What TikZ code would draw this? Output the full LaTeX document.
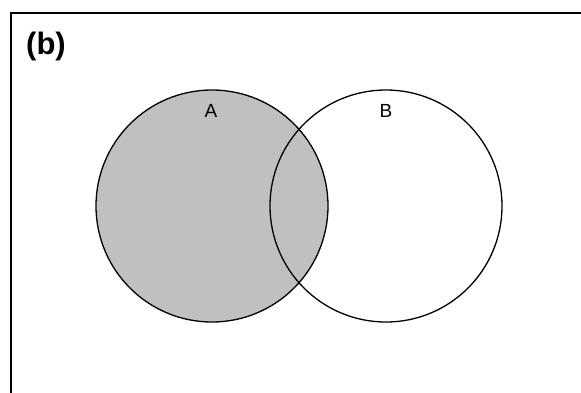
\documentclass[tikz,border=0pt]{standalone}
\usepackage{fontspec}
\setmainfont{Liberation Sans}
\begin{document}
\begin{tikzpicture}[x=1pt,y=-1pt,
  setcircle/.style={draw=black, line width=1.3pt},
  setlabel/.style={font=\fontsize{19}{19}\selectfont, inner sep=0pt},
  framestyle/.style={draw=black, line width=2pt}]
\useasboundingbox (0,0) rectangle (581,392);
\fill[white] (0,0) rectangle (581,392);
% frame (left and top edges only)
\coordinate (fbl) at (10.5,393);
\coordinate (ftl) at (10.5,13);
\coordinate (ftr) at (582,13);
\draw[framestyle] (fbl) -- (ftl) -- (ftr);
% circles
\coordinate (ca) at (212,206);
\coordinate (cb) at (386,206);
\fill[fill={rgb,255:red,192;green,192;blue,192}] (ca) circle[radius=116];
\draw[setcircle] (ca) circle[radius=116];
\draw[setcircle] (cb) circle[radius=116];
% labels
\node[setlabel] (la) at (211,111) {A};
\node[setlabel] (lb) at (386,111) {B};
\node[font=\fontsize{31}{31}\selectfont\bfseries, inner sep=0pt] (title) at (46,46) {(b)};
\end{tikzpicture}
\end{document}
